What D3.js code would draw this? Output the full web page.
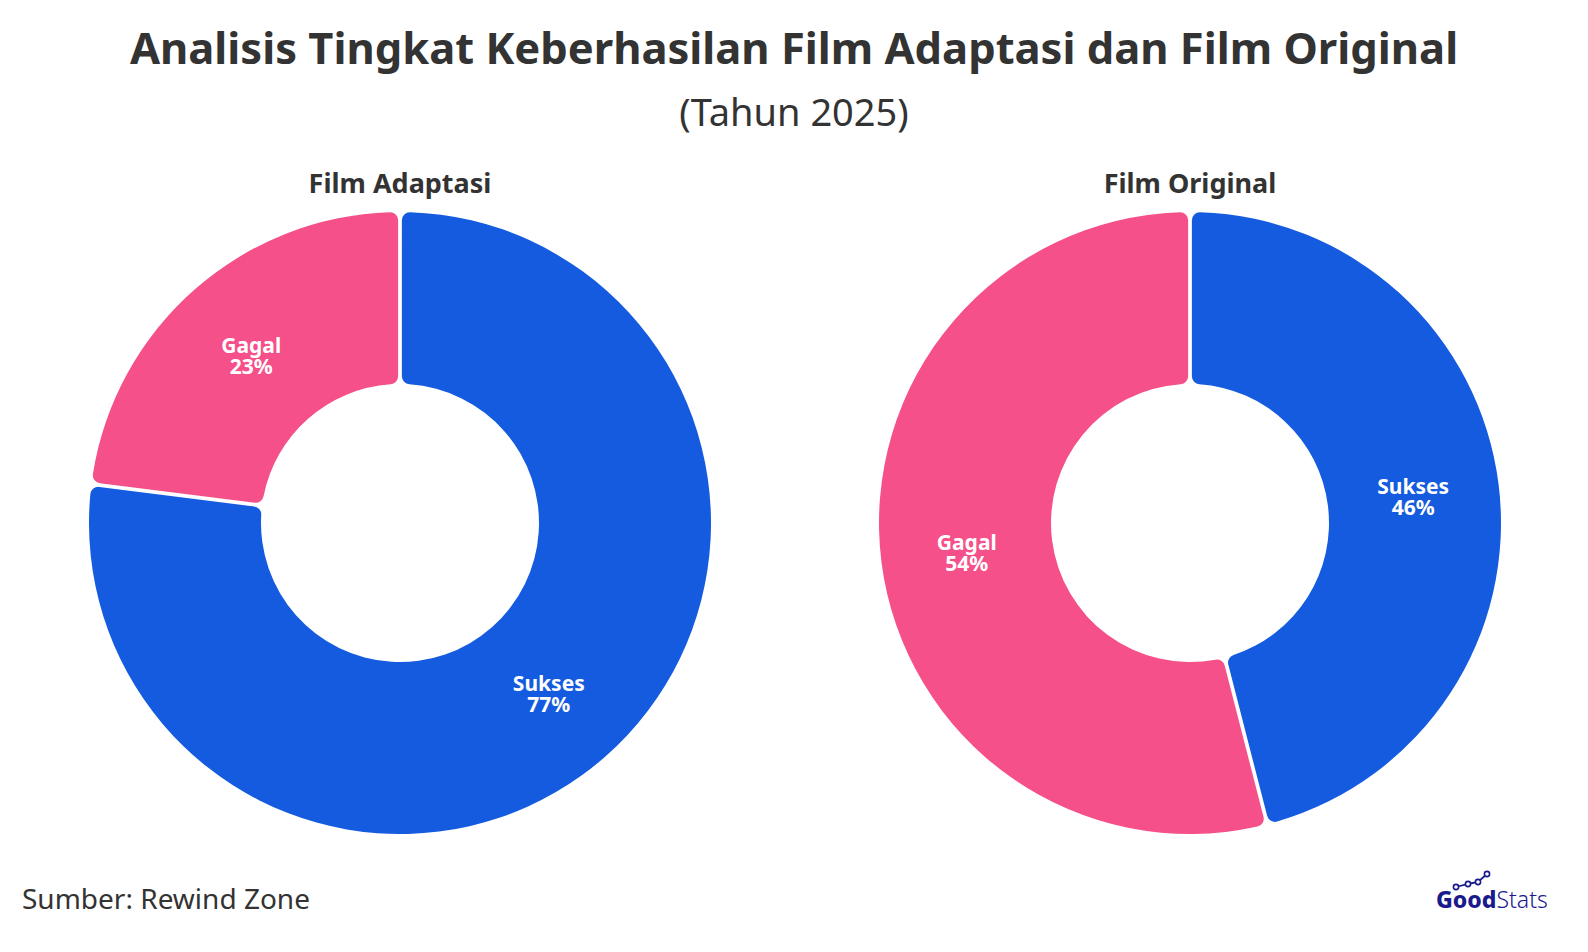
<!DOCTYPE html>
<html>
<head>
<meta charset="utf-8">
<title>Analisis Tingkat Keberhasilan Film</title>
<script src="https://cdn.jsdelivr.net/npm/d3@7"></script>
<style>
  body { margin: 0; background: #fff; }
  text { font-family: "Noto Sans", "Open Sans", sans-serif; }
  .title { font-weight: 700; fill: #333; }
  .subtitle { fill: #333; }
  .chart-title { font-weight: 700; fill: #333; }
  .slice-label { font-weight: 700; fill: #fff; }
  .source { fill: #333; }
</style>
</head>
<body>
<div id="chart"></div>
<script>
var width = 1588,
    height = 952;

// data
var charts = ["Film Adaptasi", "Film Original"];
var categories = ["Sukses", "Gagal"];
var adaptasiValues = [77, 23];
var originalValues = [46, 54];
var colors = ["#155be0", "#f5508a"];

var series = [adaptasiValues, originalValues];
var centersX = [400, 1190];
var centerY = 523;
var outerR = 311, innerR = 139;

var svg = d3.select("#chart").append("svg")
    .attr("width", width)
    .attr("height", height);

svg.append("text")
    .attr("class", "title")
    .attr("x", width / 2)
    .attr("y", 64)
    .attr("text-anchor", "middle")
    .style("font-size", "43.5px")
    .text("Analisis Tingkat Keberhasilan Film Adaptasi dan Film Original");

svg.append("text")
    .attr("class", "subtitle")
    .attr("x", width / 2)
    .attr("y", 126)
    .attr("text-anchor", "middle")
    .style("font-size", "38px")
    .text("(Tahun 2025)");

var color = d3.scaleOrdinal().domain(categories).range(colors);

var pie = d3.pie().sort(null).value(function(d) { return d.value; });

var arc = d3.arc()
    .innerRadius(innerR)
    .outerRadius(outerR)
    .cornerRadius(8)
    .padAngle(0.012)
    .padRadius(outerR);

var labelArc = d3.arc()
    .innerRadius(innerR)
    .outerRadius(outerR);

charts.forEach(function(name, i) {
  var data = categories.map(function(c, j) {
    return {name: c, value: series[i][j]};
  });

  var g = svg.append("g")
      .attr("transform", "translate(" + centersX[i] + "," + centerY + ")");

  svg.append("text")
      .attr("class", "chart-title")
      .attr("x", centersX[i])
      .attr("y", 193)
      .attr("text-anchor", "middle")
      .style("font-size", "27px")
      .text(name);

  var slices = g.selectAll(".slice")
      .data(pie(data))
      .enter().append("g")
      .attr("class", "slice");

  slices.append("path")
      .attr("d", arc)
      .attr("fill", function(d) { return color(d.data.name); });

  var labels = slices.append("text")
      .attr("class", "slice-label")
      .attr("text-anchor", "middle")
      .style("font-size", "21px")
      .attr("transform", function(d) {
        var c = labelArc.centroid(d);
        return "translate(" + c[0] + "," + c[1] + ")";
      });
  labels.append("tspan")
      .attr("x", 0)
      .attr("dy", "-0.05em")
      .text(function(d) { return d.data.name; });
  labels.append("tspan")
      .attr("x", 0)
      .attr("dy", "1em")
      .text(function(d) { return d.data.value + "%"; });
});

svg.append("text")
    .attr("class", "source")
    .attr("x", 22)
    .attr("y", 909)
    .style("font-size", "28px")
    .text("Sumber: Rewind Zone");

// logo
var logo = svg.append("g").attr("transform", "translate(1436,908)");
var logoText = logo.append("text")
    .style("font-size", "23px")
    .attr("fill", "#1a1a8c");
logoText.append("tspan").style("font-weight", "800").text("Good");
logoText.append("tspan").style("font-weight", "300").text("Stats");
var pts = [[20, -21], [32, -24], [42, -26], [51, -34]];
logo.append("path")
    .attr("d", d3.line()(pts))
    .attr("fill", "none")
    .attr("stroke", "#1a1a8c")
    .attr("stroke-width", 1.8);
logo.selectAll("circle.dot")
    .data(pts)
    .enter().append("circle")
    .attr("cx", function(d) { return d[0]; })
    .attr("cy", function(d) { return d[1]; })
    .attr("r", 2.6)
    .attr("fill", "#fff")
    .attr("stroke", "#1a1a8c")
    .attr("stroke-width", 1.6);
</script>
</body>
</html>
